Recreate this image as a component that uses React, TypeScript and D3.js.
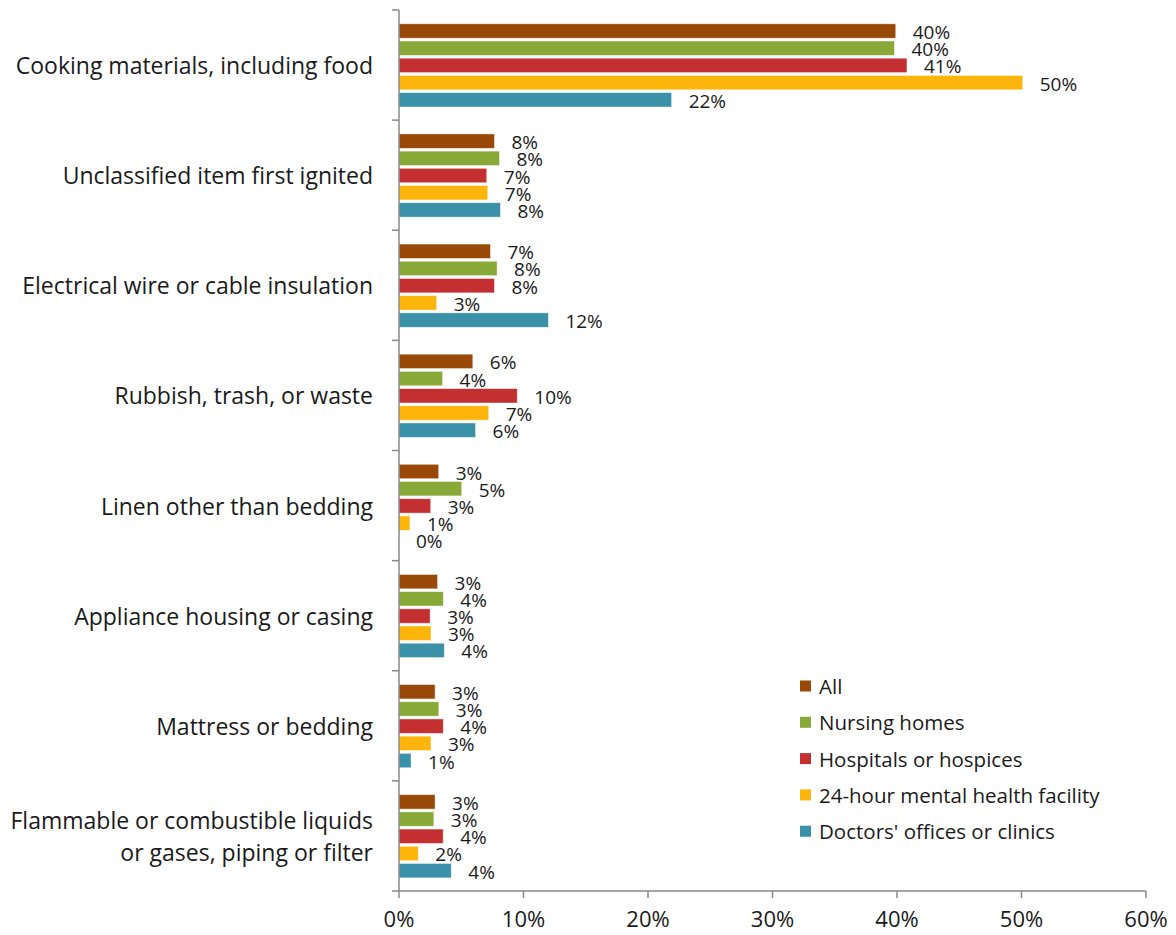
import React from "react";
import * as d3 from "d3";

const categories = [
  "Cooking materials, including food",
  "Unclassified item first ignited",
  "Electrical wire or cable insulation",
  "Rubbish, trash, or waste",
  "Linen other than bedding",
  "Appliance housing or casing",
  "Mattress or bedding",
  "Flammable or combustible liquids|or gases, piping or filter",
];

const seriesNames = [
  "All",
  "Nursing homes",
  "Hospitals or hospices",
  "24-hour mental health facility",
  "Doctors' offices or clinics",
];

const seriesColors = ["#984807", "#88A937", "#C42F32", "#FDB50B", "#3A91A8"];

const allValues = [39.9, 7.67, 7.35, 5.93, 3.19, 3.1, 2.9, 2.9];
const nursingValues = [39.8, 8.07, 7.88, 3.5, 5.04, 3.56, 3.2, 2.8];
const hospitalValues = [40.8, 7.05, 7.67, 9.5, 2.55, 2.5, 3.56, 3.55];
const mentalValues = [50.1, 7.13, 3.03, 7.21, 0.88, 2.57, 2.57, 1.55];
const doctorValues = [21.9, 8.15, 12.0, 6.15, 0.0, 3.64, 0.97, 4.2];

const seriesValues = [allValues, nursingValues, hospitalValues, mentalValues, doctorValues];

const xTicks = [0, 10, 20, 30, 40, 50, 60];

const FONT = "'Open Sans', sans-serif";

export default function App() {
  const width = 1176;
  const height = 935;
  const left = 399;
  const right = 1146;
  const top = 10;
  const bottom = 891;

  const x = d3.scaleLinear().domain([0, 60]).range([left, right]);
  const y = d3.scaleBand<string>().domain(categories).range([top, bottom]).padding(0);
  const sub = d3
    .scaleBand<string>()
    .domain(seriesNames)
    .range([12.4, 98.4])
    .paddingInner(0.16)
    .paddingOuter(0.08);

  const axisColor = "#898989";
  const boundaries = categories.map((c) => y(c)!).concat([bottom]);

  return (
    <svg
      width={width}
      height={height}
      style={{ position: "absolute", left: 0, top: 0, background: "#fff" }}
      fontFamily={FONT}
    >
      {categories.map((c, ci) => (
        <g key={c} transform={`translate(0,${y(c)})`}>
          {seriesNames.map((s, si) => {
            const v = seriesValues[si][ci];
            const by = sub(s)!;
            const bh = sub.bandwidth();
            return (
              <g key={s}>
                <rect
                  x={x(0)}
                  y={by}
                  width={Math.max(0, x(v) - x(0))}
                  height={bh}
                  fill={seriesColors[si]}
                  stroke="#ffffff"
                  strokeOpacity={0.6}
                  strokeWidth={0.8}
                />
                <text
                  x={x(v) + 17}
                  y={by + bh / 2 + 1}
                  dominantBaseline="central"
                  fontSize={19}
                  fill="#1a1a1a"
                >
                  {Math.round(v) + "%"}
                </text>
              </g>
            );
          })}
        </g>
      ))}

      <line x1={left} x2={left} y1={top} y2={bottom} stroke={axisColor} strokeWidth={1.5} />
      {boundaries.map((b, i) => (
        <line key={i} x1={left - 7} x2={left} y1={b} y2={b} stroke={axisColor} strokeWidth={1.5} />
      ))}

      {categories.map((c) => {
        const lines = c.split("|");
        const cy = y(c)! + y.bandwidth() / 2;
        const lh = 32;
        return (
          <text key={c} x={373} textAnchor="end" fontSize={23} fill="#1a1a1a">
            {lines.map((ln, i) => (
              <tspan
                key={i}
                x={373}
                y={cy + (i - (lines.length - 1) / 2) * lh}
                dominantBaseline="central"
              >
                {ln}
              </tspan>
            ))}
          </text>
        );
      })}

      <line x1={left} x2={right} y1={bottom} y2={bottom} stroke={axisColor} strokeWidth={1.5} />
      {xTicks.map((t) => (
        <g key={t}>
          <line x1={x(t)} x2={x(t)} y1={bottom} y2={bottom + 7} stroke={axisColor} strokeWidth={1.5} />
          <text x={x(t)} y={918} textAnchor="middle" dominantBaseline="central" fontSize={22} fill="#1a1a1a">
            {t + "%"}
          </text>
        </g>
      ))}

      {seriesNames.map((s, i) => {
        const ly = 686 + i * 36.3;
        return (
          <g key={s}>
            <rect x={800} y={ly - 5.5} width={11} height={11} fill={seriesColors[i]} />
            <text x={819} y={ly} dominantBaseline="central" fontSize={20.5} fill="#1a1a1a">
              {s}
            </text>
          </g>
        );
      })}
    </svg>
  );
}
